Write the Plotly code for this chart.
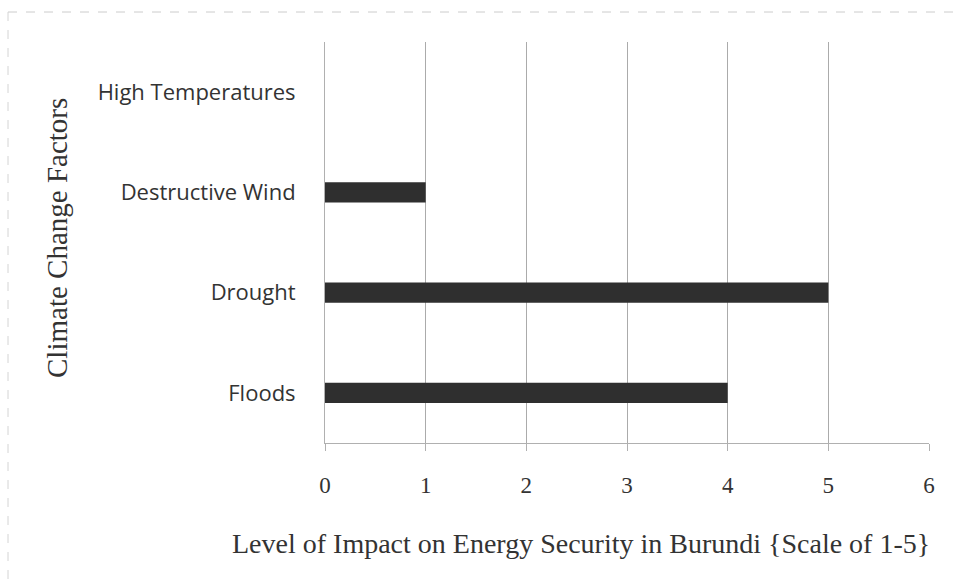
import plotly.graph_objects as go

# Climate change factors and their rated impact on energy security
factors = ["Floods", "Drought", "Destructive Wind", "High Temperatures"]
impact = [4, 5, 1, 0]
x_ticks = [0, 1, 2, 3, 4, 5, 6]

serif = "Liberation Serif, Times New Roman, serif"
sans = "Open Sans, Lato, sans-serif"

# Plot area in pixels (left, top, right, bottom)
L, T, R, B = 325, 42, 929, 443
W, H = 953, 579
plot_w, plot_h = R - L, B - T


def px_x(x):
    return (x - L) / plot_w


def px_y(y):
    return (B - y) / plot_h


fig = go.Figure(
    go.Bar(
        x=impact,
        y=factors,
        orientation="h",
        width=0.2,
        marker=dict(color="#2f2f2f", line=dict(width=0)),
    )
)

fig.update_layout(
    width=W,
    height=H,
    margin=dict(l=L, r=W - R, t=T, b=H - B),
    paper_bgcolor="white",
    plot_bgcolor="white",
    showlegend=False,
    xaxis=dict(
        range=[0, 6],
        tickvals=x_ticks,
        ticktext=[str(v) for v in x_ticks],
        showgrid=True,
        gridcolor="#ababab",
        gridwidth=1,
        zeroline=False,
        showline=True,
        linecolor="#b0b0b0",
        linewidth=1,
        ticks="outside",
        ticklen=7,
        tickcolor="#b0b0b0",
        ticklabelstandoff=14,
        tickfont=dict(family=serif, size=23, color="#333333"),
    ),
    yaxis=dict(
        categoryorder="array",
        categoryarray=factors,
        showgrid=False,
        zeroline=False,
        showline=True,
        linecolor="#b0b0b0",
        linewidth=1,
        ticks="",
        ticklabelstandoff=24,
        tickfont=dict(family=sans, size=22, color="#333333"),
    ),
    annotations=[
        dict(
            text="Level of Impact on Energy Security in Burundi {Scale of 1-5}",
            x=px_x(581), y=px_y(543), xref="paper", yref="paper",
            xanchor="center", yanchor="middle",
            showarrow=False,
            font=dict(family=serif, size=28, color="#333333"),
        ),
        dict(
            text="Climate Change Factors",
            x=px_x(57), y=px_y(238), xref="paper", yref="paper",
            xanchor="center", yanchor="middle",
            textangle=-90,
            showarrow=False,
            font=dict(family=serif, size=29, color="#333333"),
        ),
    ],
    shapes=[
        # faint dashed frame along the top and left of the chart
        dict(type="line", xref="paper", yref="paper",
             x0=px_x(8), x1=px_x(953), y0=px_y(12), y1=px_y(12),
             line=dict(color="#cccccc", width=1, dash="dash")),
        dict(type="line", xref="paper", yref="paper",
             x0=px_x(8), x1=px_x(8), y0=px_y(12), y1=px_y(579),
             line=dict(color="#d4d4d4", width=1, dash="dash")),
    ],
)

fig.write_html("out.html")
